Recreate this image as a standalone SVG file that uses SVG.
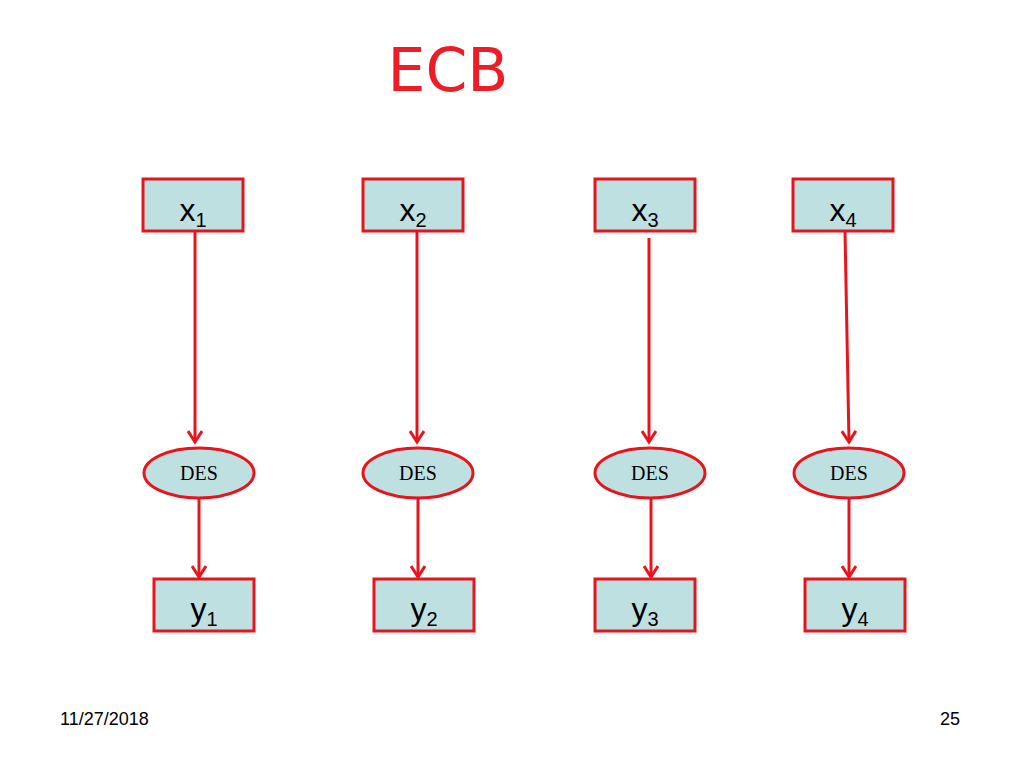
<svg xmlns="http://www.w3.org/2000/svg" width="1024" height="768" viewBox="0 0 1024 768">
<style>
.b{fill:#bfe0e0;stroke:#e8141c;stroke-width:3}
.l{font-family:"Liberation Sans",Arial,sans-serif;font-size:32px;fill:#000;text-anchor:middle}
.s{font-size:20px}
.d{font-family:"Liberation Serif","Times New Roman",serif;font-size:20px;fill:#000;text-anchor:middle}
.c line{stroke:#e8141c;stroke-width:3;marker-end:url(#a)}
.f{font-family:"Liberation Sans",Arial,sans-serif;font-size:18px;fill:#000}
</style>
<defs><marker id="a" markerWidth="16" markerHeight="16" refX="12" refY="8" orient="auto" markerUnits="userSpaceOnUse"><path d="M1,1 L12,8 L1,15" fill="none" stroke="#e8141c" stroke-width="3"/></marker></defs>
<rect width="1024" height="768" fill="#fff"/>
<text x="448" y="91" font-family="'Comic Sans MS','DejaVu Sans',sans-serif" font-size="60" fill="#ee1c24" text-anchor="middle">ECB</text>
<g id="x1"><rect class="b" x="143" y="179" width="100" height="52"/><text class="l" x="193" y="221">x<tspan class="s" dy="6">1</tspan></text></g>
<g id="x2"><rect class="b" x="363" y="179" width="100" height="52"/><text class="l" x="413" y="221">x<tspan class="s" dy="6">2</tspan></text></g>
<g id="x3"><rect class="b" x="595" y="179" width="100" height="52"/><text class="l" x="645" y="221">x<tspan class="s" dy="6">3</tspan></text></g>
<g id="x4"><rect class="b" x="793" y="179" width="100" height="52"/><text class="l" x="843" y="221">x<tspan class="s" dy="6">4</tspan></text></g>
<g id="d1"><ellipse class="b" cx="199" cy="473" rx="55" ry="25"/><text class="d" x="199" y="480">DES</text></g>
<g id="d2"><ellipse class="b" cx="418" cy="473" rx="55" ry="25"/><text class="d" x="418" y="480">DES</text></g>
<g id="d3"><ellipse class="b" cx="650" cy="473" rx="55" ry="25"/><text class="d" x="650" y="480">DES</text></g>
<g id="d4"><ellipse class="b" cx="849" cy="473" rx="55" ry="25"/><text class="d" x="849" y="480">DES</text></g>
<g id="y1"><rect class="b" x="154" y="579" width="100" height="52"/><text class="l" x="204" y="620">y<tspan class="s" dy="6">1</tspan></text></g>
<g id="y2"><rect class="b" x="374" y="579" width="100" height="52"/><text class="l" x="424" y="620">y<tspan class="s" dy="6">2</tspan></text></g>
<g id="y3"><rect class="b" x="595" y="579" width="100" height="52"/><text class="l" x="645" y="620">y<tspan class="s" dy="6">3</tspan></text></g>
<g id="y4"><rect class="b" x="805" y="579" width="100" height="52"/><text class="l" x="855" y="620">y<tspan class="s" dy="6">4</tspan></text></g>
<g class="c">
<line x1="195" y1="231" x2="195" y2="442"/>
<line x1="417" y1="231" x2="417" y2="442"/>
<line x1="649" y1="238" x2="649" y2="442"/>
<line x1="845" y1="231" x2="849" y2="442"/>
<line x1="199" y1="498" x2="199" y2="577"/>
<line x1="418" y1="498" x2="418" y2="577"/>
<line x1="651" y1="498" x2="651" y2="577"/>
<line x1="849" y1="498" x2="849" y2="577"/>
</g>
<text class="f" x="60" y="725">11/27/2018</text>
<text class="f" x="940" y="725">25</text>
</svg>
